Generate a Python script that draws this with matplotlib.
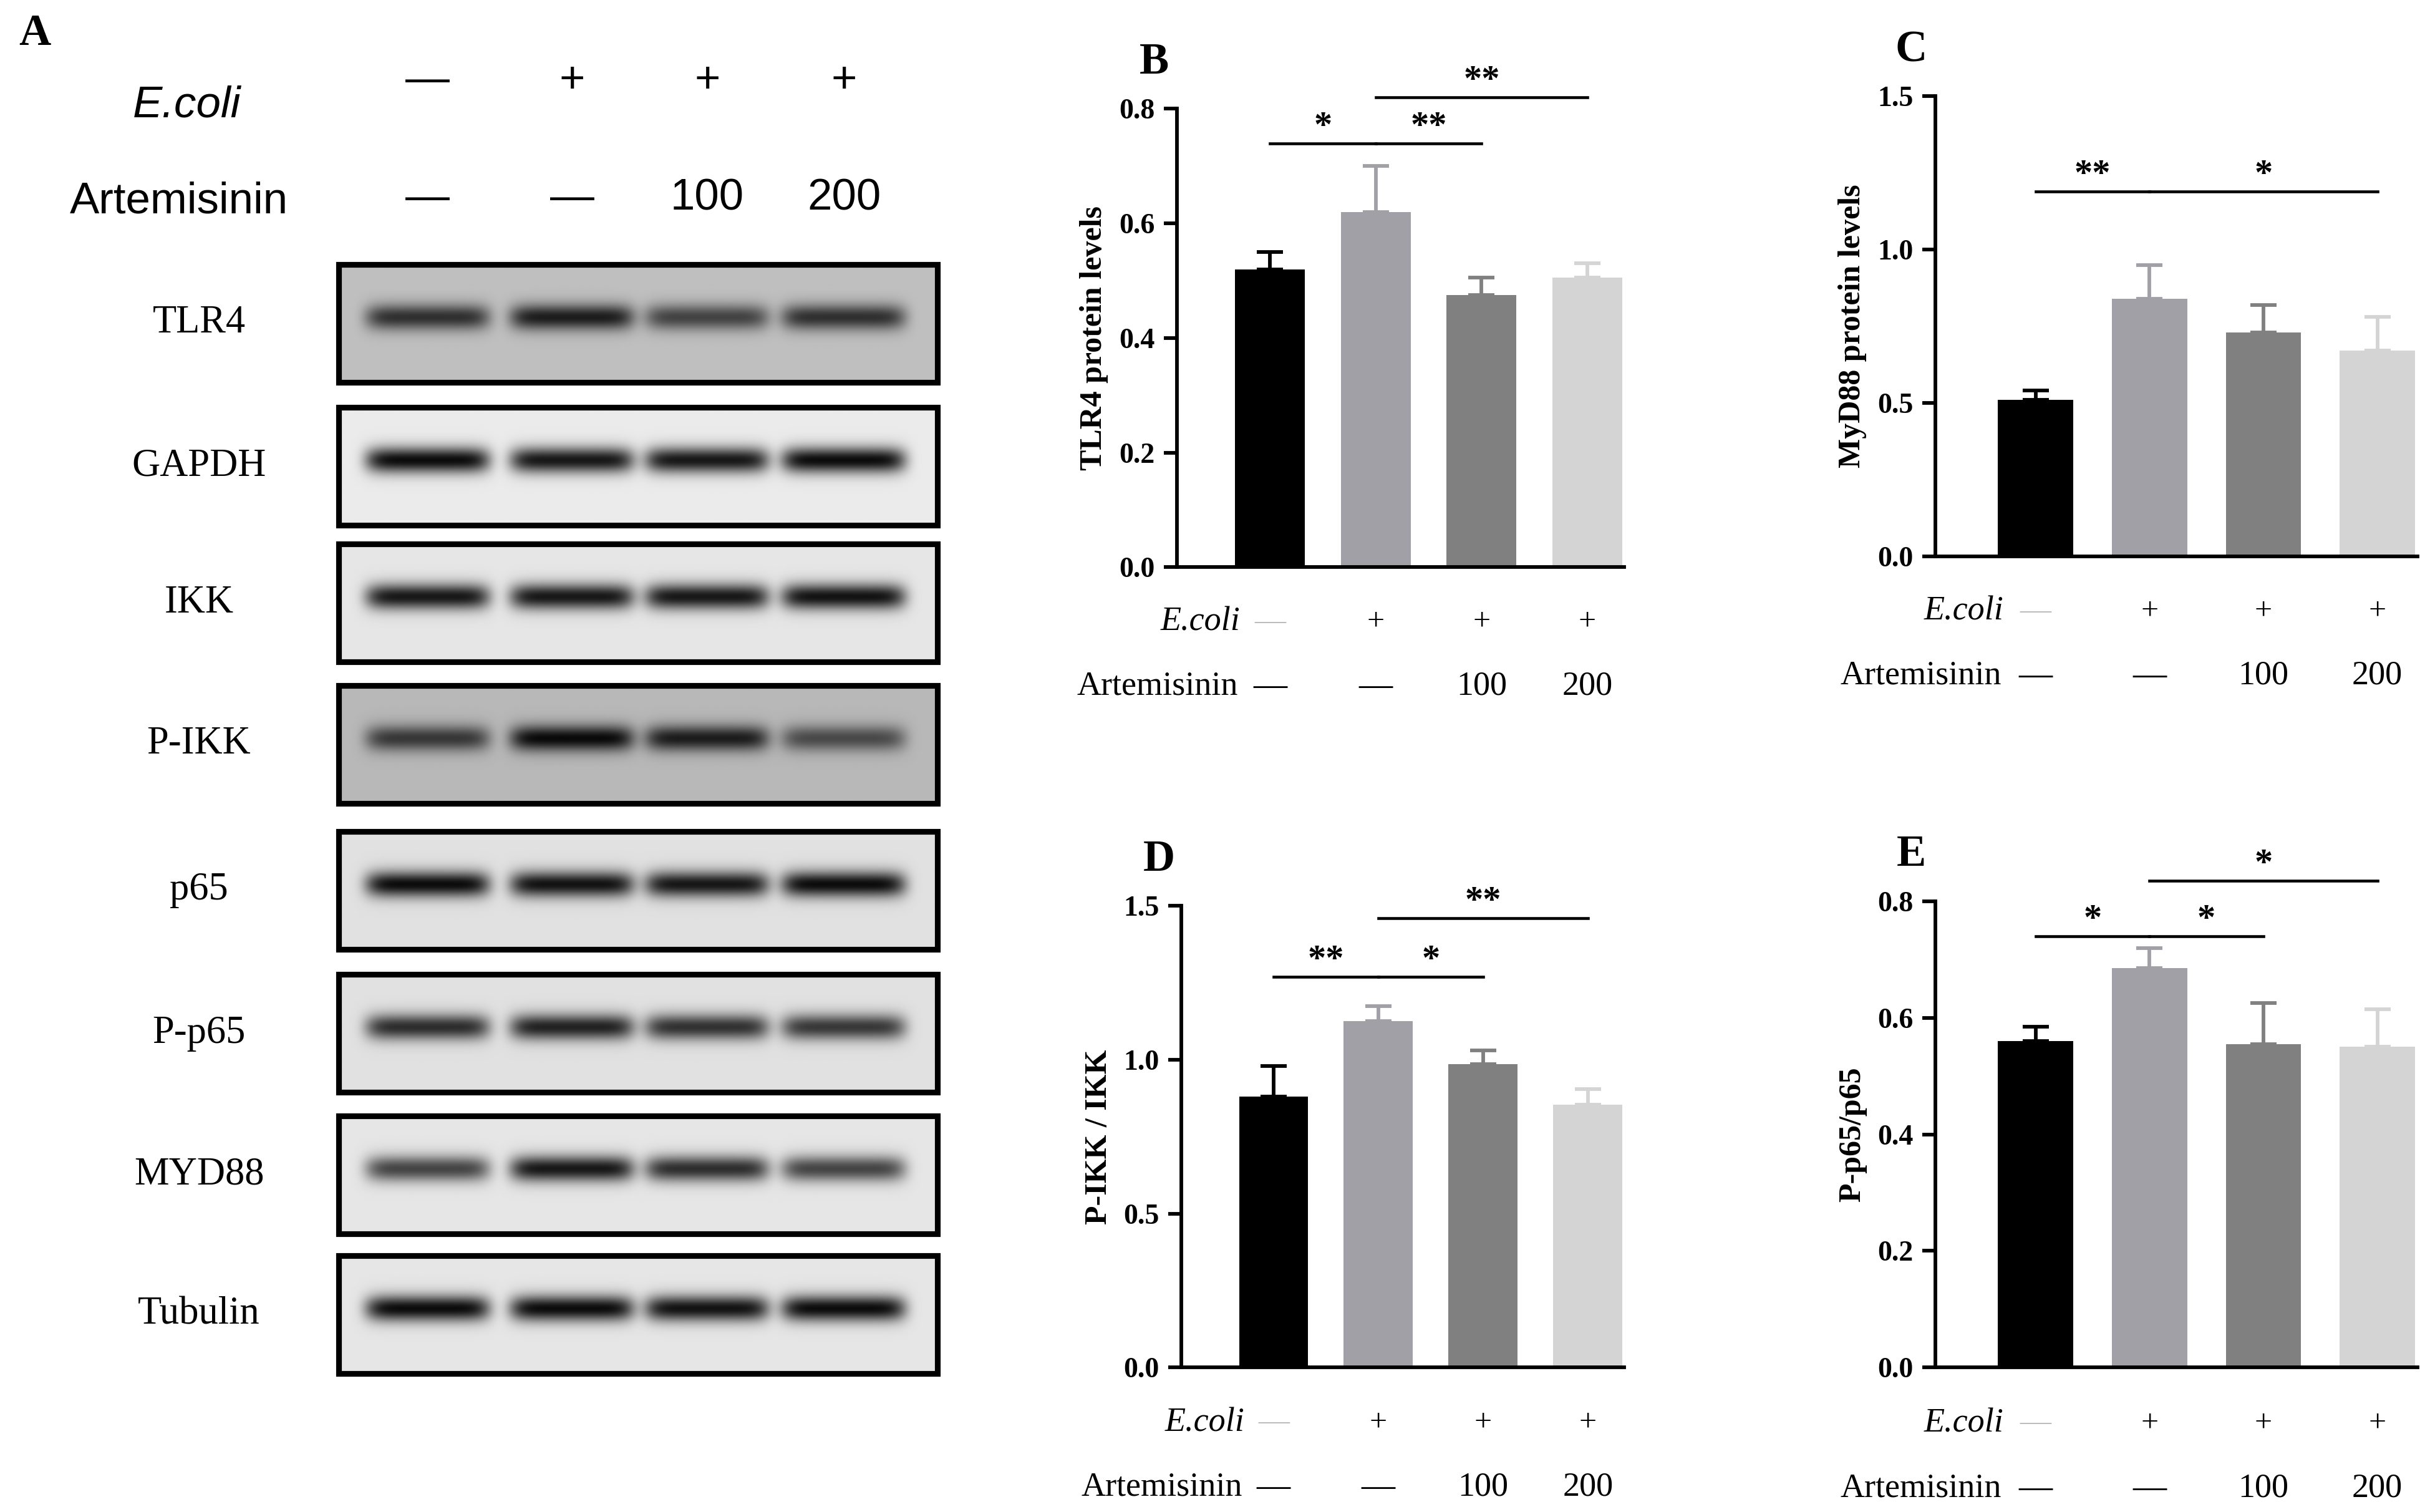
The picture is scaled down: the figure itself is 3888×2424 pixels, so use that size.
import numpy as np
import matplotlib.pyplot as plt
from matplotlib.patches import Rectangle
from matplotlib.transforms import blended_transform_factory

plt.rcParams['font.family'] = ['Liberation Serif', 'DejaVu Serif']

W, H = 1560.0, 973.0

# ---- data ----
lanes_ecoli = ['—', '+', '+', '+']
lanes_art = ['—', '—', '100', '200']
blots = ['TLR4', 'GAPDH', 'IKK', 'P-IKK', 'p65', 'P-p65', 'MYD88', 'Tubulin']
band_int = [[0.75, 0.85, 0.65, 0.75],
            [0.95, 0.9, 0.9, 0.95],
            [0.9, 0.9, 0.9, 0.92],
            [0.7, 0.95, 0.85, 0.6],
            [0.95, 0.92, 0.9, 0.95],
            [0.8, 0.85, 0.78, 0.75],
            [0.7, 0.9, 0.8, 0.7],
            [0.95, 0.95, 0.92, 0.95]]
blot_bg = [0.75, 0.92, 0.9, 0.72, 0.88, 0.88, 0.9, 0.9]

colors = ['#000000', '#a0a0a6', '#808080', '#d4d4d4']

panels = {
    'B': dict(mean=[0.52, 0.62, 0.475, 0.505], err=[0.03, 0.08, 0.03, 0.025],
              ylim=0.8, ticks=[0.0, 0.2, 0.4, 0.6, 0.8], ylabel='TLR4 protein levels',
              sig=[(0, 1, 0.74, '*'), (1, 2, 0.74, '**'), (1, 3, 0.82, '**')]),
    'C': dict(mean=[0.51, 0.84, 0.73, 0.67], err=[0.03, 0.11, 0.09, 0.11],
              ylim=1.5, ticks=[0.0, 0.5, 1.0, 1.5], ylabel='MyD88 protein levels',
              sig=[(0, 1, 1.19, '**'), (1, 3, 1.19, '*')]),
    'D': dict(mean=[0.88, 1.125, 0.985, 0.855], err=[0.10, 0.05, 0.045, 0.05],
              ylim=1.5, ticks=[0.0, 0.5, 1.0, 1.5], ylabel='P-IKK / IKK',
              sig=[(0, 1, 1.27, '**'), (1, 2, 1.27, '*'), (1, 3, 1.46, '**')]),
    'E': dict(mean=[0.56, 0.685, 0.555, 0.55], err=[0.025, 0.035, 0.07, 0.065],
              ylim=0.8, ticks=[0.0, 0.2, 0.4, 0.6, 0.8], ylabel='P-p65/p65',
              sig=[(0, 1, 0.74, '*'), (1, 2, 0.74, '*'), (1, 3, 0.835, '*')]),
}
# axes boxes in pixel coords of the reduced view: x0, y_top, x1, y_bottom
boxes = {'B': (757, 70, 1045, 365), 'C': (1245, 62, 1555, 358),
         'D': (760, 583, 1045, 880), 'E': (1245, 580, 1555, 880)}

fig = plt.figure(figsize=(12.96, 8.08), dpi=300)

def fbox(x0, yt, x1, yb):
    return [x0 / W, 1 - yb / H, (x1 - x0) / W, (yb - yt) / H]

# ---- panel A: blots ----
axA = fig.add_axes([0, 0, 1, 1])
axA.set_xlim(0, W)
axA.set_ylim(H, 0)
axA.axis('off')
lane_x = [275, 368, 455, 543]
axA.text(12, 22, 'A', fontsize=17, fontweight='bold', va='center')
axA.text(120, 68, 'E.coli', fontsize=17, style='italic', ha='center', va='center', family=['Liberation Sans'])
axA.text(115, 130, 'Artemisinin', fontsize=17, ha='center', va='center', family=['Liberation Sans'])
for x, e, a in zip(lane_x, lanes_ecoli, lanes_art):
    axA.text(x, 52, e, fontsize=17, ha='center', va='center', family=['Liberation Sans'])
    axA.text(x, 128, a, fontsize=17, ha='center', va='center', family=['Liberation Sans'])
tops = [170, 262, 350, 441, 535, 627, 718, 808]
xx = np.linspace(-1, 1, 120)
yy = np.linspace(-1, 1, 60)
for name, top, ints, bg in zip(blots, tops, band_int, blot_bg):
    h = 76
    axA.text(128, top + h / 2, name, fontsize=15, ha='center', va='center')
    img = np.full((60, 385), bg)
    cols = np.linspace(218, 603, 385)
    rows = np.linspace(top, top + h, 60)
    for lx, v in zip(lane_x, ints):
        prof_x = np.exp(-((cols - lx) / 40.0) ** 8)
        prof_y = np.exp(-((rows - (top + h * 0.45)) / (h * 0.11)) ** 2)
        img -= bg * v * np.outer(prof_y, prof_x)
    axA.imshow(img, cmap='gray', vmin=0, vmax=1, extent=(218, 603, top + h, top),
               aspect='auto', interpolation='bilinear')
    axA.add_patch(Rectangle((218, top), 385, h, fill=False, lw=2.2, ec='black'))

# ---- bar panels ----
for key, p in panels.items():
    ax = fig.add_axes(fbox(*boxes[key]))
    x = np.arange(4)
    ax.bar(x, p['mean'], width=0.66, color=colors)
    for xi, m, e in zip(x, p['mean'], p['err']):
        ax.errorbar(xi, m, yerr=[[0], [e]], fmt='none', ecolor=colors[xi] if xi else 'black',
                    elinewidth=1.4, capsize=5, capthick=1.4)
    ax.set_xlim(-0.88, 3.35)
    ax.set_ylim(0, p['ylim'])
    ax.set_yticks(p['ticks'])
    ax.set_yticklabels(['%.1f' % t for t in p['ticks']], fontweight='bold', fontsize=11)
    ax.set_xticks([])
    for s in ['top', 'right']:
        ax.spines[s].set_visible(False)
    ax.spines['left'].set_linewidth(1.4)
    ax.spines['bottom'].set_linewidth(1.4)
    ax.tick_params(axis='y', width=1.4, length=5)
    ax.set_ylabel(p['ylabel'], fontweight='bold', fontsize=12)
    for a, b, y, s in p['sig']:
        ax.plot([a, b], [y, y], color='black', lw=1.1, clip_on=False)
        ax.text((a + b) / 2, y, s, ha='center', va='bottom', fontsize=14, fontweight='bold')
    tr = blended_transform_factory(ax.transData, ax.transAxes)
    ax.text(0.5, 1.03, '', transform=ax.transAxes)
    ax.text(-0.05, 1.1, key, transform=ax.transAxes, fontsize=17, fontweight='bold', va='center', ha='center')
    ax.text(-0.28, -0.12, 'E.coli', transform=tr, fontsize=13, style='italic', ha='right', va='center')
    ax.text(-0.3, -0.26, 'Artemisinin', transform=tr, fontsize=13, ha='right', va='center')
    for xi, e, a in zip(x, lanes_ecoli, lanes_art):
        ax.text(xi, -0.12, e, transform=tr, fontsize=12, ha='center', va='center',
                color='#bbbbbb' if e == '—' else 'black', clip_on=False)
        ax.text(xi, -0.26, a, transform=tr, fontsize=13, ha='center', va='center', clip_on=False)

fig.savefig('out.png', dpi=300)
